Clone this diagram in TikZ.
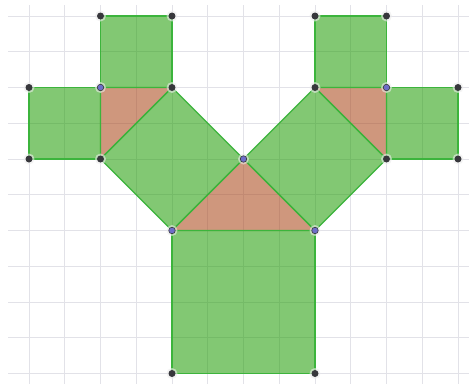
\documentclass[tikz,border=0pt]{standalone}
\begin{document}
\begin{tikzpicture}[x=1pt,y=-1pt]
\definecolor{gridc}{RGB}{226,226,232}
\definecolor{gfill}{RGB}{28,155,0}
\definecolor{ofill}{RGB}{168,66,20}
\definecolor{gline}{RGB}{60,180,60}
\definecolor{dotdark}{RGB}{55,55,60}
\definecolor{dotblue}{RGB}{110,110,200}
\tikzset{
  sq/.style={fill=gfill,fill opacity=0.55,draw=gline,line width=1.3pt,line join=round},
  tri/.style={fill=ofill,fill opacity=0.55,draw=gline,line width=1.3pt,line join=round},
  pt/.style={circle,fill=dotdark,inner sep=0pt,minimum size=7pt},
  bpt/.style={circle,fill=dotblue,draw=dotdark,line width=0.6pt,inner sep=0pt,minimum size=6.5pt},
  halo/.style={circle,fill=gray!15,inner sep=0pt,minimum size=11pt,opacity=0.6}
}
\useasboundingbox (0,0) rectangle (469,384);
\fill[white] (0,0) rectangle (469,384);
% grid
\foreach \k in {0,...,12} {
  \draw[gridc,line width=0.9pt] ({29+35.75*\k},5) -- ({29+35.75*\k},384);
}
\foreach \k in {0,...,10} {
  \draw[gridc,line width=0.9pt] (8,{16+35.75*\k}) -- (469,{16+35.75*\k});
}
% coordinates in grid units
\begin{scope}[x=35.75pt,y=-35.75pt,shift={(29pt,-16pt)}]
\coordinate (A0) at (2,0); \coordinate (A1) at (4,0);
\coordinate (B0) at (0,2); \coordinate (P1) at (2,2); \coordinate (A2) at (4,2);
\coordinate (B1) at (0,4); \coordinate (B2) at (2,4);
\coordinate (C) at (6,4);
\coordinate (L) at (4,6); \coordinate (R) at (8,6);
\coordinate (D0) at (4,10); \coordinate (D1) at (8,10);
\coordinate (E0) at (8,0); \coordinate (E1) at (10,0);
\coordinate (E2) at (8,2); \coordinate (P2) at (10,2); \coordinate (F0) at (12,2);
\coordinate (F1) at (10,4); \coordinate (F2) at (12,4);
\end{scope}
% triangles
\draw[tri] (P1) -- (A2) -- (B2) -- cycle;
\draw[tri] (L) -- (R) -- (C) -- cycle;
\draw[tri] (E2) -- (P2) -- (F1) -- cycle;
% squares
\draw[sq] (A0) -- (A1) -- (A2) -- (P1) -- cycle;
\draw[sq] (B0) -- (P1) -- (B2) -- (B1) -- cycle;
\draw[sq] (A2) -- (C) -- (L) -- (B2) -- cycle;
\draw[sq] (C) -- (E2) -- (F1) -- (R) -- cycle;
\draw[sq] (L) -- (R) -- (D1) -- (D0) -- cycle;
\draw[sq] (E0) -- (E1) -- (P2) -- (E2) -- cycle;
\draw[sq] (P2) -- (F0) -- (F2) -- (F1) -- cycle;
% points
\foreach \p in {A0,A1,B0,A2,B1,B2,E0,E1,E2,F0,F1,F2,D0,D1} {
  \node[halo] at (\p) {};
  \node[pt] (n\p) at (\p) {};
}
\foreach \p in {P1,C,P2,L,R} {
  \node[halo] at (\p) {};
  \node[bpt] (n\p) at (\p) {};
}
\end{tikzpicture}
\end{document}
